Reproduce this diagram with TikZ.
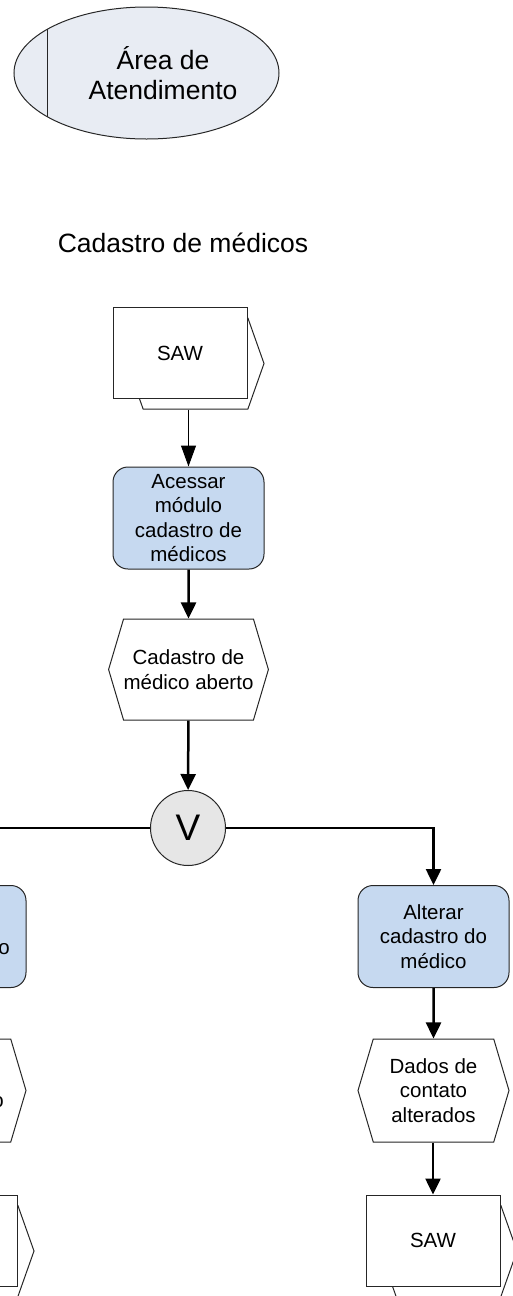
\documentclass[tikz,border=0pt]{standalone}
\usepackage{fontspec}
\setmainfont{Liberation Sans}
\usetikzlibrary{shapes.geometric,shapes.symbols,arrows.meta,positioning}
\definecolor{areafill}{RGB}{232,236,243}
\definecolor{funcfill}{RGB}{198,217,240}
\definecolor{orfill}{RGB}{230,230,230}
\tikzset{area node/.style={ellipse,fill=areafill,draw=black!85,line width=1pt,minimum width=265pt,minimum height=132pt,inner sep=0pt},
         big text/.style={rectangle,inner sep=0pt,align=center,font=\fontsize{26.5}{30}\selectfont},
         func node/.style={rectangle,rounded corners=15pt,fill=funcfill,draw=black!85,line width=1pt,minimum width=151pt,minimum height=102pt,inner sep=0pt,align=center,font=\fontsize{20.5}{24.5}\selectfont},
         event node/.style={signal,signal to=east and west,signal pointer angle=147,fill=white,draw=black!85,line width=1pt,minimum width=151pt,minimum height=101pt,inner sep=0pt,align=center,font=\fontsize{20.5}{24.5}\selectfont},
         sys node/.style={rectangle,fill=white,draw=black!85,line width=1pt,minimum width=134pt,minimum height=91pt,inner sep=0pt,font=\fontsize{20.5}{24.5}\selectfont},
         sys back/.style={signal,signal to=east and west,signal pointer angle=141,fill=white,draw=black!85,line width=1pt,minimum width=137pt,minimum height=91pt,inner sep=0pt},
         or node/.style={circle,fill=orfill,draw=black!85,line width=1pt,minimum size=75pt,inner sep=0pt,font=\fontsize{37}{37}\selectfont},
         cut text/.style={rectangle,inner sep=0pt,font=\fontsize{20.5}{24.5}\selectfont},
         flow/.style={line width=2.5pt,-{Triangle[width=15pt,length=16pt]}},
         thin flow/.style={line width=1pt,-{Triangle[width=15pt,length=21pt]}},
}

\begin{document}
\begin{tikzpicture}[x=1pt,y=-1pt]

% \draw[help lines,step=50] (0,0) grid (513,1296);
\useasboundingbox (0,0) rectangle (513,1296);
\clip (0,0) rectangle (513,1296);

\node[area node] (1) at (146.5,73){};
\draw[line width=1pt,black!85] (1.156) -- (1.204);
\node[big text] (2) at (163,73){Área de\\Atendimento};
\node[big text] (3) at (183,243){Cadastro de médicos};

\node[sys back] (4) at (195.5,363.5){};
\node[sys node] (5) at (180,353){SAW};
\node[func node] (6) at (188.5,518){Acessar\\módulo\\cadastro de\\médicos};
\node[event node] (7) at (188.5,669.5){Cadastro de\\médico aberto};
\node[or node] (8) at (188,828){V};

\node[func node] (9) at (433.5,936.5){Alterar\\cadastro do\\médico};
\node[event node,minimum height=103pt] (10) at (433.5,1090.5){Dados de\\contato\\alterados};
\node[sys back] (11) at (448.5,1251){};
\node[sys node] (12) at (433,1240.5){SAW};

\node[func node] (13) at (-49.5,936.5){};
\node[cut text] (14) at (4,949){o};
\node[event node,minimum height=103pt] (15) at (-49.5,1090.5){};
\node[cut text] (16) at (-2,1102.5){o};
\node[sys back] (17) at (-34.5,1251){};
\node[sys node] (18) at (-50,1240.5){};

\draw[thin flow] (4.south -| 6.north) -- (6.north);
\draw[flow] (6) -- (7);
\draw[flow] (7) -- (8);
\draw[flow] (8.east) -| (9.north);
\draw[flow] (8.west) -| (13.north);
\draw[flow] (9) -- (10);
\draw[flow] (10.south -| 12.north) -- (12.north);
\draw[flow] (13) -- (15);
\draw[flow] (15.south -| 18.north) -- (18.north);
\end{tikzpicture}
\end{document}
